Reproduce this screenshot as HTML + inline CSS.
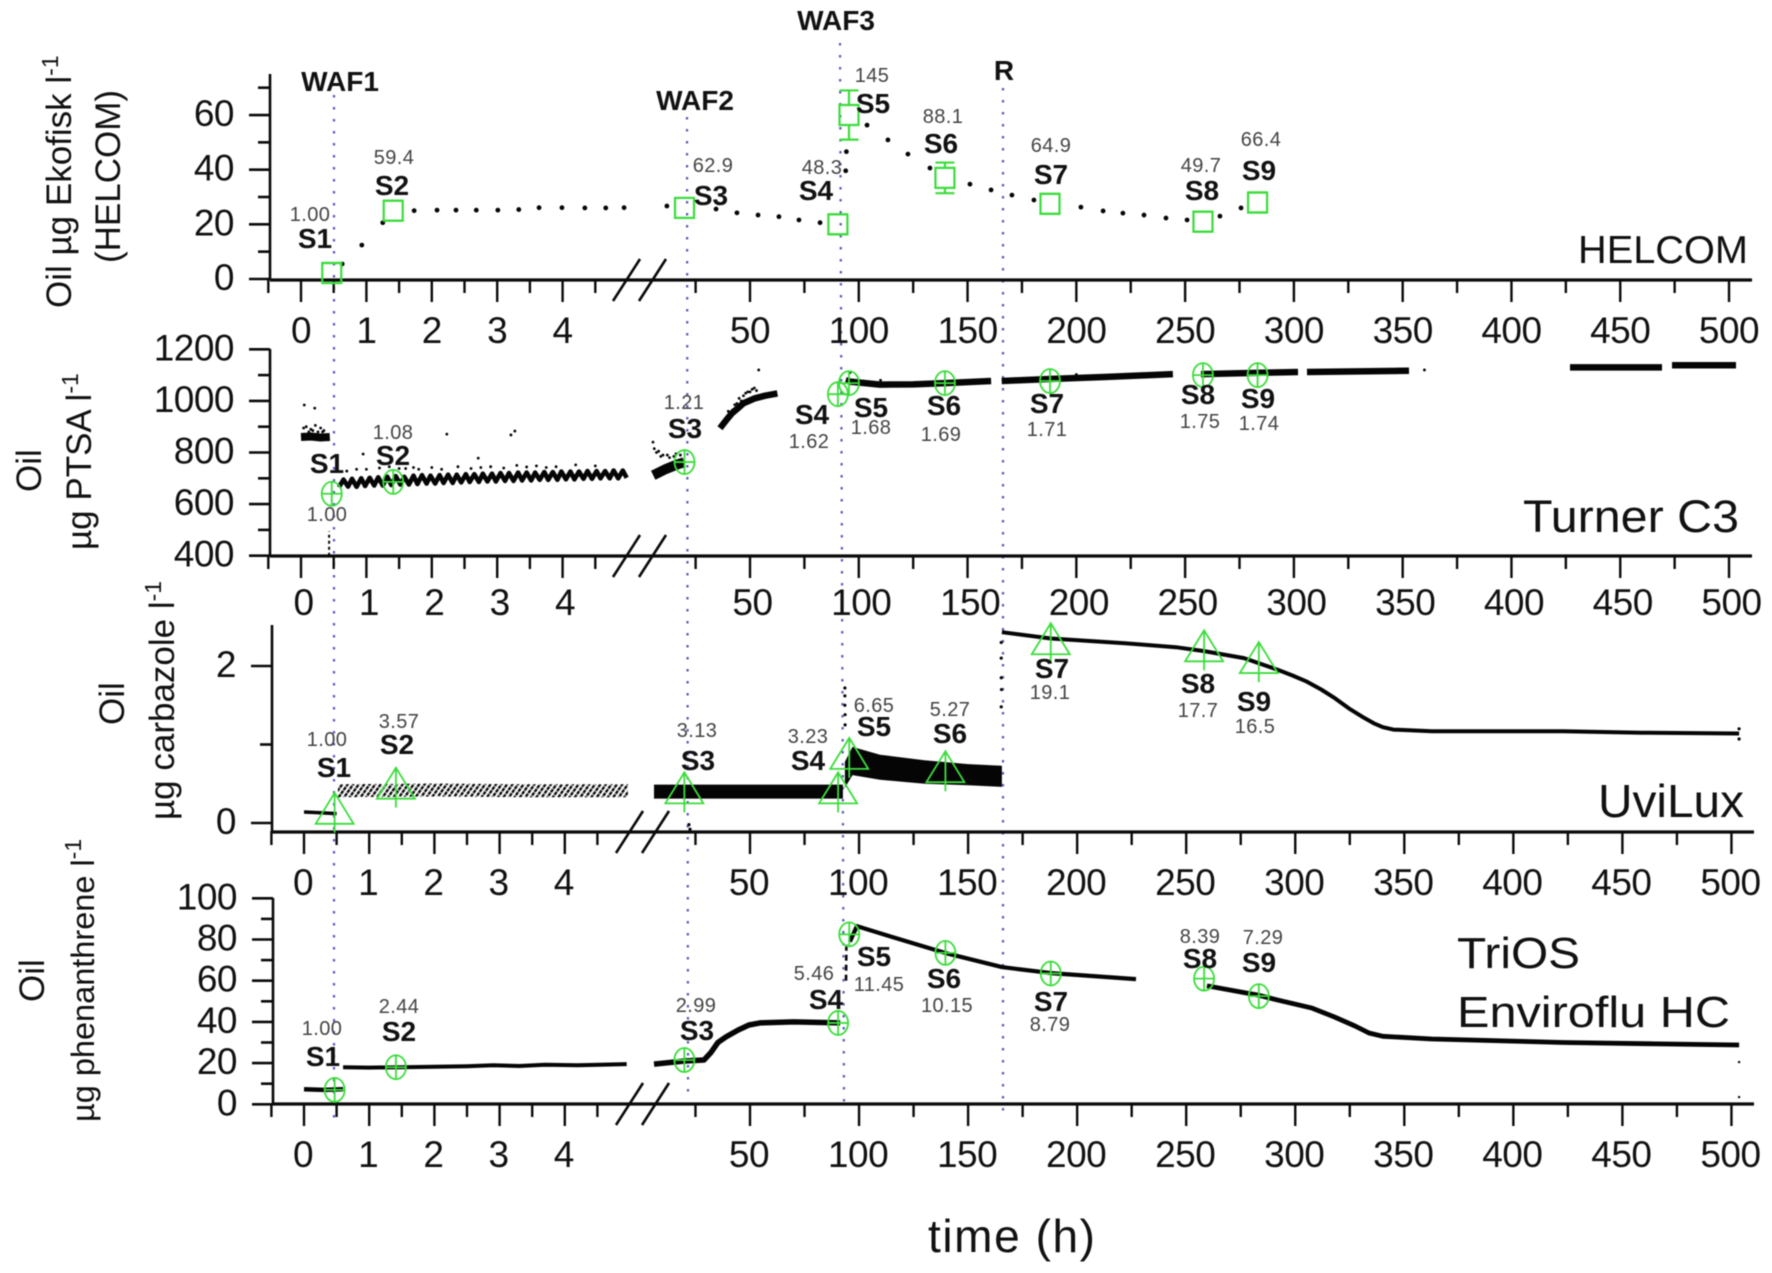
<!DOCTYPE html>
<html lang="en">
<head>
<meta charset="utf-8">
<title>Oil fluorescence time series</title>
<style>
html,body{margin:0;padding:0;background:#fff;}
svg{display:block;filter:blur(0.55px);}
text{font-family:"Liberation Sans",sans-serif;fill:#111;}
.s{font-size:28px;font-weight:bold;text-anchor:middle;}
.v{font-size:20px;text-anchor:middle;fill:#444;letter-spacing:.4px;}
.w{font-size:28px;font-weight:bold;text-anchor:middle;}
.y{font-size:35px;}
.tick{font-size:37px;letter-spacing:-.5px;}
.sup{font-size:23px;}
.vline{stroke:#5a5ab8;stroke-width:2.2;stroke-dasharray:2.5 9.5;fill:none;}
</style>
</head>
<body>
<svg id="chart" xmlns="http://www.w3.org/2000/svg" width="1772" height="1273" viewBox="0 0 1772 1273">
<defs>
<pattern id="uvi-hatch" patternUnits="userSpaceOnUse" width="4.5" height="4.5" patternTransform="rotate(35)">
<rect x="0" y="0" width="2.4" height="4.5" fill="#0a0a0a"/>
<rect x="0" y="0" width="4.5" height="0.8" fill="#fff"/>
</pattern>
</defs>
<rect x="0" y="0" width="1772" height="1273" fill="#fff"/>

<g id="sampling-lines">
<line class="vline" x1="334" y1="95" x2="334" y2="1118"/>
<line class="vline" x1="687" y1="117" x2="688" y2="1096"/>
<line class="vline" x1="840" y1="43" x2="844" y2="1106"/>
<line class="vline" x1="1003" y1="88" x2="1003" y2="1112"/>
</g>

<g id="plot-layer"></g>

<g>
<text class="w" x="340" y="91">WAF1</text>
<text class="w" x="695" y="110">WAF2</text>
<text class="w" x="836" y="30">WAF3</text>
<text class="w" x="1004" y="80">R</text>
</g>

<g>
<text class="s" x="315" y="248">S1</text><text class="v" x="310" y="221">1.00</text>
<text class="s" x="392" y="195">S2</text><text class="v" x="394" y="164">59.4</text>
<text class="s" x="711" y="205">S3</text><text class="v" x="713" y="172">62.9</text>
<text class="s" x="816" y="200">S4</text><text class="v" x="822" y="174">48.3</text>
<text class="s" x="873" y="113">S5</text><text class="v" x="872" y="82">145</text>
<text class="s" x="941" y="153">S6</text><text class="v" x="943" y="123">88.1</text>
<text class="s" x="1051" y="184">S7</text><text class="v" x="1051" y="152">64.9</text>
<text class="s" x="1202" y="200">S8</text><text class="v" x="1201" y="172">49.7</text>
<text class="s" x="1259" y="180">S9</text><text class="v" x="1261" y="146">66.4</text>
</g>

<g>
<text class="s" x="327" y="473">S1</text><text class="v" x="327" y="521">1.00</text>
<text class="s" x="393" y="465">S2</text><text class="v" x="393" y="439">1.08</text>
<text class="s" x="685" y="438">S3</text><text class="v" x="684" y="409">1.21</text>
<text class="s" x="812" y="424">S4</text><text class="v" x="809" y="448">1.62</text>
<text class="s" x="871" y="417">S5</text><text class="v" x="871" y="434">1.68</text>
<text class="s" x="944" y="415">S6</text><text class="v" x="941" y="441">1.69</text>
<text class="s" x="1047" y="413">S7</text><text class="v" x="1047" y="436">1.71</text>
<text class="s" x="1198" y="404">S8</text><text class="v" x="1200" y="428">1.75</text>
<text class="s" x="1258" y="408">S9</text><text class="v" x="1259" y="430">1.74</text>
</g>

<g>
<text class="s" x="334" y="777">S1</text><text class="v" x="327" y="746">1.00</text>
<text class="s" x="397" y="754">S2</text><text class="v" x="399" y="728">3.57</text>
<text class="s" x="698" y="770">S3</text><text class="v" x="697" y="737">3.13</text>
<text class="s" x="808" y="770">S4</text><text class="v" x="808" y="743">3.23</text>
<text class="s" x="874" y="736">S5</text><text class="v" x="874" y="712">6.65</text>
<text class="s" x="950" y="743">S6</text><text class="v" x="950" y="716">5.27</text>
<text class="s" x="1052" y="678">S7</text><text class="v" x="1050" y="699">19.1</text>
<text class="s" x="1198" y="693">S8</text><text class="v" x="1198" y="717">17.7</text>
<text class="s" x="1254" y="711">S9</text><text class="v" x="1255" y="733">16.5</text>
</g>

<g>
<text class="s" x="323" y="1066">S1</text><text class="v" x="322" y="1035">1.00</text>
<text class="s" x="399" y="1041">S2</text><text class="v" x="399" y="1013">2.44</text>
<text class="s" x="697" y="1040">S3</text><text class="v" x="696" y="1012">2.99</text>
<text class="s" x="826" y="1009">S4</text><text class="v" x="814" y="980">5.46</text>
<text class="s" x="874" y="966">S5</text><text class="v" x="879" y="991">11.45</text>
<text class="s" x="944" y="988">S6</text><text class="v" x="947" y="1012">10.15</text>
<text class="s" x="1051" y="1011">S7</text><text class="v" x="1050" y="1031">8.79</text>
<text class="s" x="1200" y="968">S8</text><text class="v" x="1200" y="943">8.39</text>
<text class="s" x="1259" y="972">S9</text><text class="v" x="1263" y="944">7.29</text>
</g>

<g>
<text x="1578" y="263" style="font-size:39px" textLength="170" lengthAdjust="spacingAndGlyphs">HELCOM</text>
<text x="1523" y="532" style="font-size:45px" textLength="216" lengthAdjust="spacingAndGlyphs">Turner C3</text>
<text x="1598" y="817" style="font-size:46px" textLength="146" lengthAdjust="spacingAndGlyphs">UviLux</text>
<text x="1457" y="968" style="font-size:44px" textLength="123" lengthAdjust="spacingAndGlyphs">TriOS</text>
<text x="1457" y="1027" style="font-size:44px" textLength="273" lengthAdjust="spacingAndGlyphs">Enviroflu HC</text>
</g>

<g>
<text class="y" transform="translate(71 308) rotate(-90)">Oil µg Ekofisk l<tspan class="sup" dy="-13">-1</tspan></text>
<text class="y" transform="translate(120 263) rotate(-90)">(HELCOM)</text>
<text class="y" transform="translate(41 492) rotate(-90)">Oil</text>
<text class="y" transform="translate(91 550) rotate(-90)">µg PTSA l<tspan class="sup" dy="-13">-1</tspan></text>
<text class="y" transform="translate(124 725) rotate(-90)">Oil</text>
<text class="y" transform="translate(174 820) rotate(-90)">µg carbazole l<tspan class="sup" dy="-13">-1</tspan></text>
<text class="y" transform="translate(44 1002) rotate(-90)">Oil</text>
<text class="y" style="font-size:32.5px" transform="translate(94 1122) rotate(-90)">µg phenanthrene l<tspan class="sup" dy="-13">-1</tspan></text>
</g>

<text x="928" y="1252" style="font-size:46px" textLength="167" lengthAdjust="spacing">time (h)</text>
</svg>

<script>
// ---- tick data ----
const hourTicks = [0, 1, 2, 3, 4];
const hourMinorTicks = [-0.5, 0.5, 1.5, 2.5, 3.5, 4.5];
const longTicks = [50, 100, 150, 200, 250, 300, 350, 400, 450, 500];
const longMinorTicks = [25, 75, 125, 175, 225, 275, 325, 375, 425, 475];
const helcomYTicks = [0, 20, 40, 60];
const helcomYMinor = [10, 30, 50, 70];
const turnerYTicks = [400, 600, 800, 1000, 1200];
const turnerYMinor = [500, 700, 900, 1100];
const uviluxYTicks = [0, 2];
const uviluxYMinor = [1];
const triosYTicks = [0, 20, 40, 60, 80, 100];
const triosYMinor = [10, 30, 50, 70, 90];

// ---- discrete samples S1..S9 ----
const sampleTimes = [0.47, 1.41, 19.9, 90.4, 95.5, 139.6, 187.9, 258.2, 283.3];
const helcomValues = [2.2, 25, 26, 20, 60, 37, 27.5, 21, 28];
const helcomErrors = [1, 2, 2.5, 1, 9, 5.6, 2.8, 1, 2.8];
const turnerValues = [640, 686, 763, 1026, 1069, 1069, 1077, 1100, 1100];
const uviluxValues = [0.13, 0.45, 0.39, 0.39, 0.83, 0.66, 2.29, 2.2, 2.05];
const triosValues = [7, 18, 21.5, 39.5, 82.5, 73.5, 63.5, 61, 52.5];

// ---- HELCOM dotted trace ----
const helcomDotT = [0.63, 0.93, 1.25, 1.73, 2.08, 2.37, 2.68, 3.01, 3.33, 3.64, 3.99, 4.34, 4.66, 4.94, 11.8, 34.4, 44, 53.7, 63.3, 72.5, 82.2, 94, 94.3, 103.8, 113.4, 122.6, 132.7, 151.1, 160.8, 170.4, 180.5, 202.1, 212.3, 221.4, 231.1, 241.2, 250.9, 266, 275.7];
const helcomDotV = [5.5, 12.4, 20.6, 25, 25.2, 25.2, 25.2, 25.2, 25.4, 26.1, 26.1, 26, 26, 26.1, 26.7, 25.6, 24.2, 23.4, 22.8, 21.6, 20.6, 39.6, 46.6, 56.3, 50.9, 45.7, 40.6, 34.7, 32.6, 30.7, 28.9, 26.3, 24.9, 24.1, 23.4, 22.3, 21.6, 23, 26];

// ---- Turner C3 traces ----
const turnerPreT = [0, 0.15, 0.3, 0.44];
const turnerPreV = [860, 862, 858, 860];
const turnerDropT = [0.43, 0.43];
const turnerDropV = [400, 495];
const turnerZigT = [0.58,0.65,0.72,0.78,0.85,0.92,0.98,1.05,1.12,1.18,1.25,1.32,1.38,1.45,1.52,1.58,1.65,1.72,1.78,1.85,1.92,1.98,2.05,2.12,2.18,2.25,2.32,2.38,2.45,2.52,2.58,2.65,2.72,2.78,2.85,2.92,2.98,3.05,3.12,3.18,3.25,3.32,3.38,3.45,3.52,3.58,3.65,3.72,3.78,3.85,3.92,3.98,4.05,4.12,4.18,4.25,4.32,4.38,4.45,4.52,4.58,4.65,4.72,4.78,4.85,4.92,4.98];
const turnerZigV = [665,695,668,698,667,700,670,702,672,704,672,706,674,708,676,706,676,710,678,712,680,710,680,712,682,714,682,714,684,716,686,716,686,718,688,718,688,720,690,720,690,722,692,722,692,722,694,724,694,724,694,726,696,726,696,726,698,728,698,728,700,728,700,730,700,730,702];
const turnerBandT = [5.5, 8, 11, 14, 17, 19.7];
const turnerBandV = [712, 722, 735, 745, 755, 762];
const turnerRiseT = [36.2, 39, 41.7, 44.5, 47, 52.3, 57, 62.6];
const turnerRiseV = [894, 925, 952, 972, 991, 1010, 1020, 1029];
const turnerFlat1T = [94, 96, 109.8, 125, 139.6, 160.8];
const turnerFlat1V = [1080, 1075, 1063, 1064, 1069, 1077];
const turnerFlat2T = [165.7, 187.9, 214.3, 244.4];
const turnerFlat2V = [1077, 1085, 1093, 1104];
const turnerFlat3T = [257.3, 301.9];
const turnerFlat3V = [1104, 1112];
const turnerFlat4T = [306, 352.9];
const turnerFlat4V = [1112, 1117];
const turnerFlat5T = [426.9, 469.2];
const turnerFlat5V = [1130, 1130];
const turnerFlat6T = [473.8, 503.2];
const turnerFlat6V = [1138, 1138];
const turnerSpeckT = [0.05,0.21,0.04,0.08,0.12,0.15,0.18,0.22,0.26,0.3,0.33,0.35,0.95,2.23,2.71,3.21,3.27,0.7,0.85,1.0,1.2,1.35,1.5,1.6,1.72,1.8,2.0,2.15,2.4,2.6,2.75,2.9,3.1,3.3,3.45,3.6,3.75,3.9,4.2,4.5,5.4,6,7,8,9,10,12,13,15,16,18,39,40,42,43,44,45,46,47,48,49,50,51,52,53,54,360,96,110,200];
const turnerSpeckV = [984,972,895,900,880,890,885,905,880,895,880,885,794,871,778,868,883,728,735,735,740,745,738,738,742,735,742,735,745,738,742,745,740,750,744,748,742,745,752,748,840,815,800,805,785,790,790,780,785,795,790,935,960,965,985,990,1010,1000,1020,1030,1035,1035,1045,1050,1040,1120,1120,1110,1080,1102];

// ---- UviLux traces ----
const uviPreT = [0, 0.25, 0.5];
const uviPreV = [0.14, 0.13, 0.12];
const uviHatchT = [0.52, 2, 3.5, 4.97];
const uviHatchV = [0.41, 0.42, 0.41, 0.41];
const uviBlockT = [6, 50, 92.6];
const uviBlockV = [0.4, 0.4, 0.4];
const uviBandT = [93.5, 97, 109.6, 130, 150, 165.5];
const uviBandHi = [0.78, 0.97, 0.87, 0.8, 0.75, 0.73];
const uviBandLo = [0.45, 0.61, 0.55, 0.5, 0.48, 0.46];
const uviLineT = [165.5, 188, 221.9, 245.3, 258.2, 276.5, 292.1, 298.6, 305.4, 311.9, 318.2, 324.6, 331.5, 336, 340.2, 345, 362.7, 422.8, 459, 503.5];
const uviLineV = [2.43, 2.35, 2.29, 2.24, 2.19, 2.1, 1.95, 1.88, 1.8, 1.7, 1.59, 1.46, 1.34, 1.27, 1.22, 1.19, 1.17, 1.17, 1.15, 1.14];
const uviSpeckT = [93.5, 93.5, 93.5, 93.6, 93.6, 165.2, 165.2, 165.2, 165.3, 165.2, 503.5, 503.5, 22, 22.5];
const uviSpeckV = [1.72, 1.62, 1.5, 1.38, 1.25, 2.3, 2.1, 1.85, 1.7, 1.48, 1.2, 1.07, -0.02, -0.08];

// ---- TriOS traces ----
const triosPreT = [0, 0.3, 0.6];
const triosPreV = [7.3, 7, 7.3];
const triosLevelT = [0.6, 1, 1.5, 2, 2.5, 2.9, 3.3, 3.7, 4.2, 4.95];
const triosLevelV = [18, 17.8, 18, 18.2, 18.5, 19, 18.6, 19.2, 19, 19.5];
const triosRiseT = [6, 20, 28.9, 32, 35.3, 39, 44.5, 49.5, 54.6, 70, 91.3];
const triosRiseV = [19.5, 21, 21.5, 25, 30, 32.7, 36, 38.5, 39.5, 40, 39.5];
const triosJumpT = [94, 94.2];
const triosJumpV = [60, 78];
const triosDecayT = [95.8, 99, 109.6, 139.4, 165.5, 188, 227];
const triosDecayV = [79, 86.5, 83, 73.5, 66.6, 63.7, 60.8];
const triosTailT = [259.5, 282.9, 292, 307.7, 318, 327.4, 333.8, 340.2, 362.7, 422.8, 503.5];
const triosTailV = [57.5, 53, 50.6, 46.7, 42.4, 38, 34.6, 33, 31.7, 30, 28.8];
const triosSpeckT = [503.5, 503.5];
const triosSpeckV = [20.5, 3.5];

// ---- axis functions ----
const plot = document.getElementById('plot-layer');
const NS = 'http://www.w3.org/2000/svg';
function make(tag, parent) {
  const el = document.createElementNS(NS, tag);
  parent.appendChild(el);
  return el;
}
function xScale(p, t) {
  return t < 4.99 ? p.x0 + p.hourStep * t : 750 + (t - 50) * p.longStep;
}
function yScale(p, v) {
  return p.yZero - (v - p.yBase) * p.yUnit;
}
function pointsOf(p, ts, vs) {
  return ts.map(function (t, i) { return xScale(p, t).toFixed(1) + ',' + yScale(p, vs[i]).toFixed(1); }).join(' ');
}

function drawAxes(p) {
  const g = make('g', plot);
  
  
  function seg(x1, y1, x2, y2, w, nm) {
    const l = make('line', g);
    l.setAttribute('x1', x1); l.setAttribute('y1', y1);
    l.setAttribute('x2', x2); l.setAttribute('y2', y2);
    l.setAttribute('stroke', '#0a0a0a');
    l.setAttribute('stroke-width', w);
    
    
  }
  seg(p.axisX, p.axisY + 1, p.xEnd, p.axisY + 1, 3.2, p.name + '-x-axis');
  seg(p.axisX, p.yTop, p.axisX, p.axisY + 1, 2.6, p.name + '-y-axis');
  hourTicks.concat(longTicks).forEach(function (t) {
    seg(xScale(p, t), p.axisY, xScale(p, t), p.axisY + 23, 2.4, p.name + '-x-tick');
  });
  hourMinorTicks.concat(longMinorTicks).forEach(function (t) {
    seg(xScale(p, t), p.axisY, xScale(p, t), p.axisY + 14, 2.4, p.name + '-x-minor-tick');
  });
  p.yTicks.forEach(function (v) {
    seg(p.axisX - 21, yScale(p, v), p.axisX, yScale(p, v), 2.6, p.name + '-y-tick');
  });
  p.yMinor.forEach(function (v) {
    seg(p.axisX - 12, yScale(p, v), p.axisX, yScale(p, v), 2.6, p.name + '-y-minor-tick');
  });
  seg(p.breakX, p.axisY + 22, p.breakX + 27, p.axisY - 20, 2.6, p.name + '-axis-break');
  seg(p.breakX + 26, p.axisY + 22, p.breakX + 53, p.axisY - 20, 2.6, p.name + '-axis-break');

  hourTicks.concat(longTicks).forEach(function (t) {
    const tx = make('text', g);
    tx.setAttribute('class', 'tick');
    tx.setAttribute('text-anchor', 'middle');
    tx.setAttribute('x', xScale(p, t) + p.labelDx);
    tx.setAttribute('y', p.labelY);
    tx.textContent = String(t);
    
    
  });
  p.yTicks.forEach(function (v) {
    const tx = make('text', g);
    tx.setAttribute('class', 'tick');
    tx.setAttribute('text-anchor', 'end');
    tx.setAttribute('x', p.axisX - 36);
    tx.setAttribute('y', yScale(p, v) + 11);
    tx.textContent = String(v);
    
    
  });
}

function drawLine(p, ts, vs, width, nm, dash, paint) {
  const l = make('polyline', plot);
  l.setAttribute('points', pointsOf(p, ts, vs));
  l.setAttribute('fill', 'none');
  l.setAttribute('stroke', paint || '#050505');
  l.setAttribute('stroke-width', width);
  l.setAttribute('stroke-linejoin', 'round');
  if (dash) { l.setAttribute('stroke-dasharray', dash); }
  
  
}

function drawDots(p, ts, vs, r, nm) {
  const g = make('g', plot);
  
  
  ts.forEach(function (t, i) {
    const c = make('circle', g);
    c.setAttribute('cx', xScale(p, t));
    c.setAttribute('cy', yScale(p, vs[i]));
    c.setAttribute('r', r);
    c.setAttribute('fill', '#050505');
    
    
  });
}

function drawBand(p, ts, hi, lo, nm) {
  const band = make('polygon', plot);
  band.setAttribute('points', pointsOf(p, ts, hi) + ' ' + pointsOf(p, ts.slice().reverse(), lo.slice().reverse()));
  band.setAttribute('fill', '#050505');
  
  
}

const GREEN = '#3cdc3c';
function greenPath(g, d, w, nm) {
  const s = make('path', g);
  s.setAttribute('d', d);
  s.setAttribute('fill', 'none');
  s.setAttribute('stroke', GREEN);
  s.setAttribute('stroke-width', w);
  
  
}

function drawSquares(p, values, errors) {
  const g = make('g', plot);
  
  
  sampleTimes.forEach(function (t, i) {
    const x = xScale(p, t), y = yScale(p, values[i]);
    const yHi = Math.min(yScale(p, values[i] + errors[i]), y - 10);
    const yLo = Math.max(yScale(p, values[i] - errors[i]), y + 10);
    greenPath(g, 'M' + (x - 9.5) + ' ' + (y - 10) + 'h19v20h-19z', 2.2, p.name + '-sample-marker');
    greenPath(g, 'M' + x + ' ' + yHi + 'V' + (y - 10) + 'M' + x + ' ' + (y + 10) + 'V' + yLo + 'M' + (x - 9.5) + ' ' + yHi + 'h19M' + (x - 9.5) + ' ' + yLo + 'h19', 2.2, p.name + '-sample-error-bar');
  });
}

function drawCircles(p, values) {
  const g = make('g', plot);
  
  
  sampleTimes.forEach(function (t, i) {
    const x = xScale(p, t), y = yScale(p, values[i]);
    greenPath(g, 'M' + (x - 10) + ' ' + y + 'a10 12 0 1 0 20 0a10 12 0 1 0 -20 0M' + (x - 10) + ' ' + y + 'h20M' + x + ' ' + (y - 12) + 'v24', 1.8, p.name + '-sample-marker');
  });
}

function drawTriangles(p, values) {
  const g = make('g', plot);
  
  
  sampleTimes.forEach(function (t, i) {
    const x = xScale(p, t), y = yScale(p, values[i]);
    greenPath(g, 'M' + x + ' ' + (y - 20) + 'L' + (x + 19) + ' ' + (y + 11) + 'H' + (x - 19) + 'ZM' + x + ' ' + (y - 20) + 'V' + (y + 20), 1.8, p.name + '-sample-marker');
  });
}

const helcomPanel = {name: 'helcom', x0: 301, hourStep: 65.4, longStep: 2.1756, yZero: 279, yBase: 0, yUnit: 2.733, axisX: 270, axisY: 279, xEnd: 1752, yTop: 74, labelY: 343, labelDx: 0, breakX: 613, yTicks: helcomYTicks, yMinor: helcomYMinor};
const turnerPanel = {name: 'turner', x0: 301, hourStep: 65.4, longStep: 2.1756, yZero: 555.7, yBase: 400, yUnit: 0.258, axisX: 270, axisY: 555, xEnd: 1752, yTop: 349, labelY: 615, labelDx: 2.5, breakX: 613, yTicks: turnerYTicks, yMinor: turnerYMinor};
const uviluxPanel = {name: 'uvilux', x0: 304, hourStep: 65.2, longStep: 2.181, yZero: 823, yBase: 0, yUnit: 78.5, axisX: 272, axisY: 831, xEnd: 1754, yTop: 625, labelY: 895, labelDx: -1, breakX: 616, yTicks: uviluxYTicks, yMinor: uviluxYMinor};
const triosPanel = {name: 'trios', x0: 304, hourStep: 65.2, longStep: 2.181, yZero: 1104.3, yBase: 0, yUnit: 2.06, axisX: 273, axisY: 1103, xEnd: 1754, yTop: 898, labelY: 1167, labelDx: -1, breakX: 616, yTicks: triosYTicks, yMinor: triosYMinor};

// HELCOM
drawAxes(helcomPanel);
drawDots(helcomPanel, helcomDotT, helcomDotV, 2.4, 'helcom-dotted-trace');
drawSquares(helcomPanel, helcomValues, helcomErrors);

// Turner C3
drawAxes(turnerPanel);
drawLine(turnerPanel, turnerPreT, turnerPreV, 8, 'turner-trace-before-s1');
drawLine(turnerPanel, turnerDropT, turnerDropV, 2, 'turner-trace-drop', '3 3');
drawLine(turnerPanel, turnerZigT, turnerZigV, 4.6, 'turner-trace-zigzag');
drawLine(turnerPanel, turnerBandT, turnerBandV, 10, 'turner-trace-band');
drawLine(turnerPanel, turnerRiseT, turnerRiseV, 6.5, 'turner-trace-rise');
drawLine(turnerPanel, turnerFlat1T, turnerFlat1V, 6.5, 'turner-trace-flat-1');
drawLine(turnerPanel, turnerFlat2T, turnerFlat2V, 6.5, 'turner-trace-flat-2');
drawLine(turnerPanel, turnerFlat3T, turnerFlat3V, 6.5, 'turner-trace-flat-3');
drawLine(turnerPanel, turnerFlat4T, turnerFlat4V, 6.5, 'turner-trace-flat-4');
drawLine(turnerPanel, turnerFlat5T, turnerFlat5V, 6.5, 'turner-trace-flat-5');
drawLine(turnerPanel, turnerFlat6T, turnerFlat6V, 6.5, 'turner-trace-flat-6');
drawDots(turnerPanel, turnerSpeckT, turnerSpeckV, 1.4, 'turner-specks');
drawCircles(turnerPanel, turnerValues);

// UviLux
drawAxes(uviluxPanel);
drawLine(uviluxPanel, uviPreT, uviPreV, 3.5, 'uvilux-trace-before-s1');
drawLine(uviluxPanel, uviHatchT, uviHatchV, 13, 'uvilux-trace-hatched', null, 'url(#uvi-hatch)');
drawLine(uviluxPanel, uviBlockT, uviBlockV, 14, 'uvilux-trace-block');
drawBand(uviluxPanel, uviBandT, uviBandHi, uviBandLo, 'uvilux-trace-band');
drawLine(uviluxPanel, uviLineT, uviLineV, 4, 'uvilux-trace-line');
drawDots(uviluxPanel, uviSpeckT, uviSpeckV, 1.6, 'uvilux-specks');
drawTriangles(uviluxPanel, uviluxValues);

// TriOS
drawAxes(triosPanel);
drawLine(triosPanel, triosPreT, triosPreV, 4.5, 'trios-trace-before-s1');
drawLine(triosPanel, triosLevelT, triosLevelV, 4, 'trios-trace-level');
drawLine(triosPanel, triosRiseT, triosRiseV, 5.5, 'trios-trace-rise');
drawLine(triosPanel, triosJumpT, triosJumpV, 2.6, 'trios-trace-jump', '6 4');
drawLine(triosPanel, triosDecayT, triosDecayV, 4.2, 'trios-trace-decay');
drawLine(triosPanel, triosTailT, triosTailV, 4.8, 'trios-trace-tail');
drawDots(triosPanel, triosSpeckT, triosSpeckV, 1.2, 'trios-specks');
drawCircles(triosPanel, triosValues);
</script>
</body>
</html>
